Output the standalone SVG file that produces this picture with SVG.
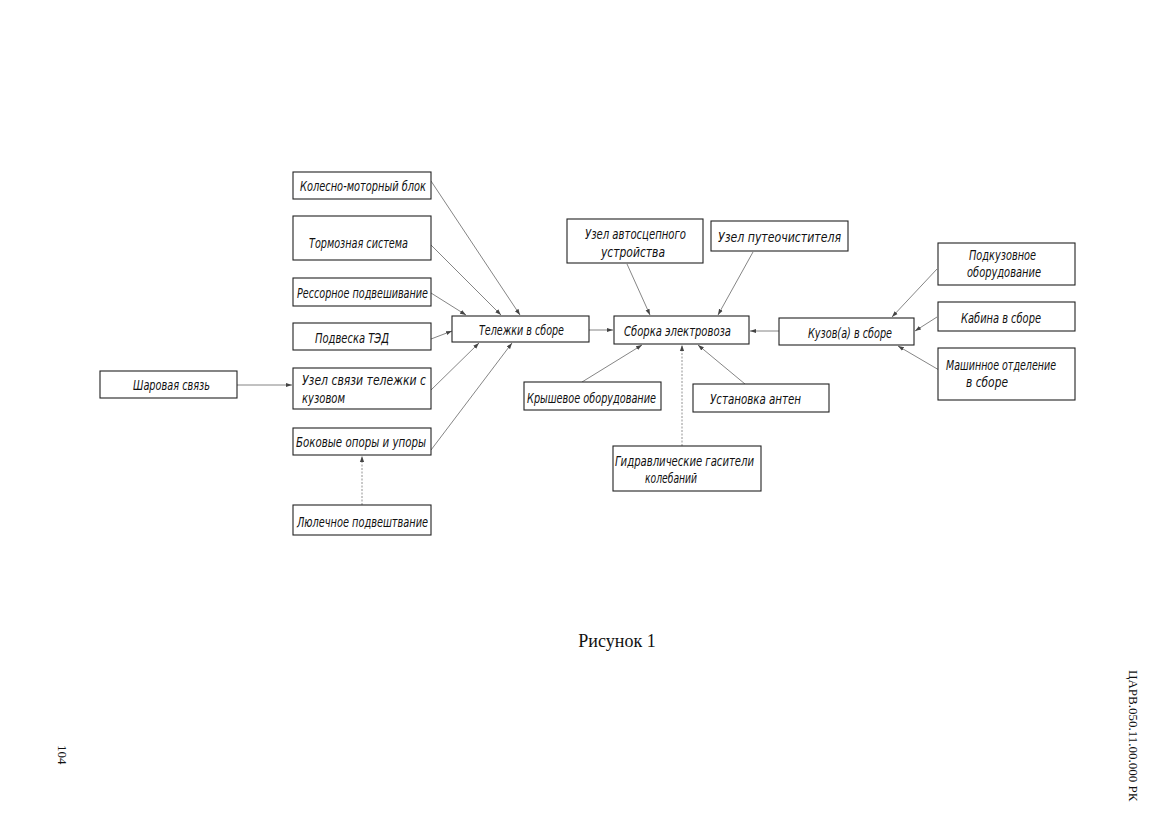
<svg xmlns="http://www.w3.org/2000/svg" width="1168" height="832" viewBox="0 0 1168 832">
<defs>
<marker id="ah" viewBox="0 0 10 10" refX="10" refY="5" markerWidth="6" markerHeight="6" markerUnits="userSpaceOnUse" orient="auto">
<path d="M0,1.5 L10,5 L0,8.5 z" fill="#444"/>
</marker>
<style>
.box{fill:#fff;stroke:#222;stroke-width:1.1}
.t{font-family:"Liberation Sans Narrow","DejaVu Sans Condensed","Liberation Sans",sans-serif;font-style:italic;font-size:14px;fill:#111}
.c{text-anchor:middle}
.ln{stroke:#666;stroke-width:0.8;fill:none;marker-end:url(#ah)}
.dl{stroke:#777;stroke-width:0.8;fill:none;stroke-dasharray:2 1.5;marker-end:url(#ah)}
.cap{font-family:"Liberation Serif","Times New Roman",serif;fill:#111}
</style>
</defs>
<rect width="1168" height="832" fill="#fff"/>

<g id="connectors">
<line class="ln" x1="431" y1="181" x2="520" y2="315"/>
<line class="ln" x1="431" y1="245" x2="501" y2="315"/>
<line class="ln" x1="431" y1="293" x2="466" y2="315"/>
<line class="ln" x1="431" y1="339" x2="452" y2="331"/>
<line class="ln" x1="431" y1="390" x2="479" y2="343"/>
<line class="ln" x1="431" y1="450" x2="512" y2="343"/>
<line class="ln" x1="237" y1="385" x2="292" y2="385"/>
<line class="dl" x1="362" y1="505" x2="362" y2="456"/>
<line class="ln" x1="589" y1="330" x2="613" y2="330"/>
<line class="ln" x1="779" y1="331" x2="750" y2="331"/>
<line class="ln" x1="627" y1="264" x2="650" y2="315"/>
<line class="ln" x1="753" y1="252" x2="718" y2="315"/>
<line class="ln" x1="582" y1="382" x2="642" y2="345"/>
<line class="dl" x1="682" y1="446" x2="682" y2="345"/>
<line class="ln" x1="745" y1="384" x2="698" y2="345"/>
<line class="ln" x1="937" y1="269" x2="892" y2="317"/>
<line class="ln" x1="937" y1="317" x2="915" y2="331"/>
<line class="ln" x1="939" y1="370" x2="898" y2="346"/>
</g>

<g id="n_kmb"><rect class="box" x="293" y="172" width="138" height="27"/><text class="t" x="300" y="191" textLength="126" lengthAdjust="spacingAndGlyphs">Колесно-моторный блок</text></g>
<g id="n_torm"><rect class="box" x="293" y="216" width="138" height="44"/><text class="t" x="309" y="248" textLength="99" lengthAdjust="spacingAndGlyphs">Тормозная система</text></g>
<g id="n_ress"><rect class="box" x="293" y="278" width="138" height="28"/><text class="t" x="297" y="298" textLength="131" lengthAdjust="spacingAndGlyphs">Рессорное подвешивание</text></g>
<g id="n_podv"><rect class="box" x="293" y="323" width="138" height="27"/><text class="t" x="315" y="343" textLength="74" lengthAdjust="spacingAndGlyphs">Подвеска ТЭД</text></g>
<g id="n_uzel"><rect class="box" x="293" y="368" width="138" height="41"/><text class="t" x="302" y="385" textLength="124" lengthAdjust="spacingAndGlyphs">Узел связи тележки с</text><text class="t" x="302" y="403" textLength="43" lengthAdjust="spacingAndGlyphs">кузовом</text></g>
<g id="n_bok"><rect class="box" x="293" y="428" width="138" height="27"/><text class="t" x="296" y="447" textLength="130" lengthAdjust="spacingAndGlyphs">Боковые опоры и упоры</text></g>
<g id="n_lyul"><rect class="box" x="293" y="505" width="138" height="30"/><text class="t" x="297" y="527" textLength="131" lengthAdjust="spacingAndGlyphs">Люлечное подвештвание</text></g>
<g id="n_shar"><rect class="box" x="100" y="371" width="137" height="27"/><text class="t" x="133" y="390" textLength="77" lengthAdjust="spacingAndGlyphs">Шаровая связь</text></g>

<g id="n_tel"><rect class="box" x="452" y="316" width="137" height="26"/><text class="t" x="479" y="335" textLength="85" lengthAdjust="spacingAndGlyphs">Тележки в сборе</text></g>
<g id="n_sbor"><rect class="box" x="614" y="316" width="135" height="28"/><text class="t" x="624" y="336" textLength="107" lengthAdjust="spacingAndGlyphs">Сборка электровоза</text></g>
<g id="n_kuz"><rect class="box" x="779" y="318" width="135" height="27"/><text class="t" x="808" y="338" textLength="84" lengthAdjust="spacingAndGlyphs">Кузов(а) в сборе</text></g>

<g id="n_avto"><rect class="box" x="567" y="219" width="136" height="44"/><text class="t" x="585" y="239" textLength="101" lengthAdjust="spacingAndGlyphs">Узел автосцепного</text><text class="t" x="601" y="257" textLength="64" lengthAdjust="spacingAndGlyphs">устройства</text></g>
<g id="n_put"><rect class="box" x="711" y="221" width="137" height="30"/><text class="t" x="718" y="242" textLength="123" lengthAdjust="spacingAndGlyphs">Узел путеочистителя</text></g>
<g id="n_krysh"><rect class="box" x="524" y="382" width="137" height="28"/><text class="t" x="527" y="403" textLength="129" lengthAdjust="spacingAndGlyphs">Крышевое оборудование</text></g>
<g id="n_ant"><rect class="box" x="693" y="384" width="136" height="28"/><text class="t" x="710" y="404" textLength="91" lengthAdjust="spacingAndGlyphs">Установка антен</text></g>
<g id="n_gidr"><rect class="box" x="613" y="446" width="148" height="45"/><text class="t" x="615" y="466" textLength="139" lengthAdjust="spacingAndGlyphs">Гидравлические гасители</text><text class="t" x="645" y="483" textLength="52" lengthAdjust="spacingAndGlyphs">колебаний</text></g>
<g id="n_podk"><rect class="box" x="938" y="243" width="137" height="42"/><text class="t" x="969" y="260" textLength="67" lengthAdjust="spacingAndGlyphs">Подкузовное</text><text class="t" x="967" y="277" textLength="74" lengthAdjust="spacingAndGlyphs">оборудование</text></g>
<g id="n_kab"><rect class="box" x="938" y="302" width="137" height="29"/><text class="t" x="961" y="323" textLength="80" lengthAdjust="spacingAndGlyphs">Кабина в сборе</text></g>
<g id="n_mash"><rect class="box" x="938" y="348" width="137" height="52"/><text class="t" x="946" y="370" textLength="110" lengthAdjust="spacingAndGlyphs">Машинное отделение</text><text class="t" x="966" y="387" textLength="42" lengthAdjust="spacingAndGlyphs">в сборе</text></g>

<text class="cap" x="617" y="647" font-size="18" text-anchor="middle">Рисунок 1</text>
<text class="cap" font-size="13" transform="translate(1129,670) rotate(90)">ЦАРВ.050.11.00.000 РК</text>
<text class="cap" font-size="13" transform="translate(58,745) rotate(90)">104</text>
</svg>
